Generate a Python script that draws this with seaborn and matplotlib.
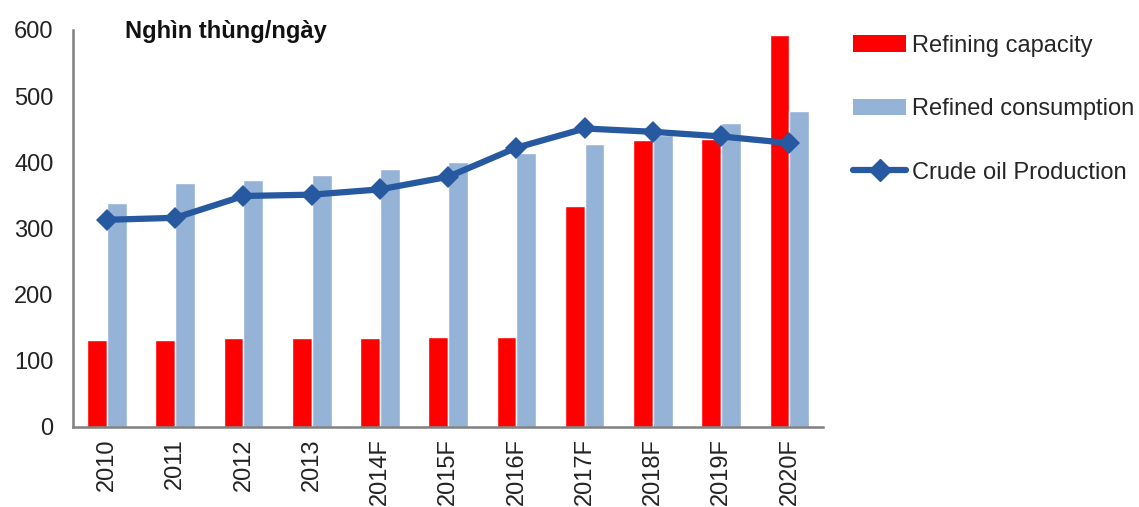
import pandas as pd
import numpy as np
import matplotlib
matplotlib.use("Agg")
import matplotlib.pyplot as plt
import seaborn as sns
from matplotlib.patches import Patch
from matplotlib.lines import Line2D

# --- DATA (thousand barrels/day) ---
years = ["2010", "2011", "2012", "2013", "2014F", "2015F",
         "2016F", "2017F", "2018F", "2019F", "2020F"]
refining_capacity = [131, 131, 134, 134, 134, 136, 136, 334, 434, 435, 593]
refined_consumption = [339, 368, 373, 380, 390, 401, 414, 428, 441, 460, 477]
crude_production = [313, 316, 349, 351, 359, 378, 422, 451, 446, 439, 429]

# --- STYLE ---
RED = "#FF0000"
LIGHT_BLUE = "#95B3D7"
DARK_BLUE = "#2659A0"
sns.set_theme(style="white")
plt.rcParams['font.family'] = ['Liberation Sans', 'DejaVu Sans']

bars = pd.DataFrame({
    "year": years * 2,
    "value": refining_capacity + refined_consumption,
    "series": ["Refining capacity"] * len(years) + ["Refined consumption"] * len(years),
})

fig = plt.figure(figsize=(11.39, 5.07), dpi=100)
ax = fig.add_axes([0.064, 0.158, 0.659, 0.783])

sns.barplot(data=bars, x="year", y="value", hue="series",
            palette=[RED, LIGHT_BLUE], width=0.58, saturation=1,
            legend=False, ax=ax)
sns.lineplot(x=years, y=crude_production, color=DARK_BLUE, linewidth=4.5,
             marker="D", markersize=11, markeredgewidth=0, sort=False, ax=ax)

ax.set_ylim(0, 600)
ax.set_xlim(-0.5, len(years) - 0.5)
ax.set_yticks(range(0, 601, 100))
ax.set_xlabel("")
ax.set_ylabel("")
ax.tick_params(axis="y", labelsize=17, length=0, pad=14, colors="#222222")
ax.tick_params(axis="x", labelsize=17, length=0, pad=8, rotation=90, colors="#222222")
for lbl in ax.get_xticklabels():
    lbl.set_va("top")

sns.despine(ax=ax)
for side in ["left", "bottom"]:
    ax.spines[side].set_color("#808080")
    ax.spines[side].set_linewidth(1.8)

ax.text(0.069, 0.995, "Nghìn thùng/ngày", transform=ax.transAxes,
        ha="left", va="center", fontsize=17, fontweight="bold", color="#111111")

handles = [
    Patch(facecolor=RED, edgecolor="none"),
    Patch(facecolor=LIGHT_BLUE, edgecolor="none"),
    Line2D([0], [0], color=DARK_BLUE, linewidth=4.5, marker="D", markersize=11),
]
labels = ["Refining capacity", "Refined consumption", "Crude oil Production"]
fig.legend(handles, labels, loc="upper left", bbox_to_anchor=(0.749, 0.931),
           frameon=False, fontsize=17, handlelength=2.25, handleheight=0.7,
           handletextpad=0.25, labelspacing=1.75, borderpad=0, borderaxespad=0)

fig.savefig("out.png", dpi=100)
plt.close(fig)
